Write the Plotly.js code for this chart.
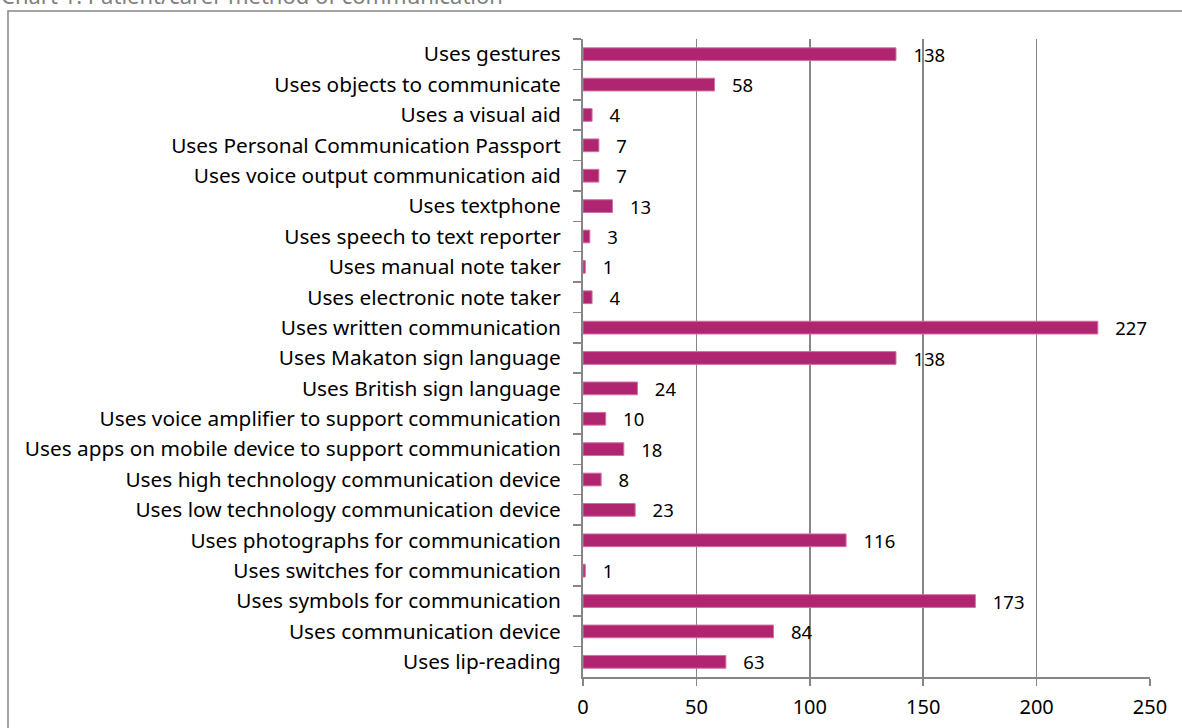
<!DOCTYPE html>
<html><head><meta charset="utf-8">
<script src="https://cdn.plot.ly/plotly-3.0.1.min.js"></script>
<style>html,body{margin:0;padding:0;background:#fff}#chart{width:1182px;height:728px}</style>
</head><body><div id="chart"></div>
<script>
const categories = [
  "Uses gestures",
  "Uses objects to communicate",
  "Uses a visual aid",
  "Uses Personal Communication Passport",
  "Uses voice output communication aid",
  "Uses textphone",
  "Uses speech to text reporter",
  "Uses manual note taker",
  "Uses electronic note taker",
  "Uses written communication",
  "Uses Makaton sign language",
  "Uses British sign language",
  "Uses voice amplifier to support communication",
  "Uses apps on mobile device to support communication",
  "Uses high technology communication device",
  "Uses low technology communication device",
  "Uses photographs for communication",
  "Uses switches for communication",
  "Uses symbols for communication",
  "Uses communication device",
  "Uses lip-reading"
];
const counts = [138, 58, 4, 7, 7, 13, 3, 1, 4, 227, 138, 24, 10, 18, 8, 23, 116, 1, 173, 84, 63];
const xTicks = [0, 50, 100, 150, 200, 250];
const titleText = "Chart 1: Patient/carer method of communication";

const W = 1182, H = 728;
const L = 583, R = 1150, T = 39, B = 677;
const pw = R - L, ph = B - T;
const px = v => (v - L) / pw;
const py = v => (B - v) / ph;
const grey = "#868686";
const font = "Noto Sans, Open Sans, sans-serif";

const trace = {
  type: "bar",
  orientation: "h",
  y: categories,
  x: counts,
  marker: {color: "#B0256F", line: {color: "#D56FA3", width: 1}},
  texttemplate: "   %{x}",
  textposition: "outside",
  constraintext: "none",
  cliponaxis: false,
  textfont: {family: font, size: 18.5, color: "#000"},
  hoverinfo: "none"
};

const layout = {
  width: W, height: H,
  margin: {l: L, r: W - R, t: T, b: H - B, pad: 0},
  paper_bgcolor: "#fff", plot_bgcolor: "#fff",
  showlegend: false,
  bargap: 0.58,
  font: {family: font, size: 20, color: "#000"},
  xaxis: {
    range: [0, 250], tickvals: xTicks, ticktext: xTicks.map(String),
    showgrid: true, gridcolor: grey, gridwidth: 1.5,
    zeroline: false, showline: true, linecolor: grey, linewidth: 2,
    ticks: "outside", ticklen: 7, tickcolor: grey, tickwidth: 1.5,
    ticklabelstandoff: 4,
    tickfont: {family: font, size: 20, color: "#000"}
  },
  yaxis: {
    type: "category", autorange: "reversed",
    showgrid: false, zeroline: false,
    showline: true, linecolor: grey, linewidth: 2,
    ticks: "outside", tickson: "boundaries", ticklen: 8, tickcolor: grey, tickwidth: 1.5,
    ticklabelstandoff: 16,
    tickfont: {family: font, size: 20.8, color: "#000"}
  },
  shapes: [{
    type: "rect", xref: "paper", yref: "paper",
    x0: px(8), x1: px(1195), y0: py(745), y1: py(11),
    line: {color: grey, width: 1.5}, fillcolor: "rgba(0,0,0,0)", layer: "below"
  }],
  annotations: [{
    text: titleText, xref: "paper", yref: "paper",
    x: px(-1), y: py(-5), xanchor: "left", yanchor: "middle",
    showarrow: false, font: {family: font, size: 22, color: "#7f7f7f"}
  }]
};

Plotly.newPlot("chart", [trace], layout, {displayModeBar: false, staticPlot: true});
</script>
</body></html>
